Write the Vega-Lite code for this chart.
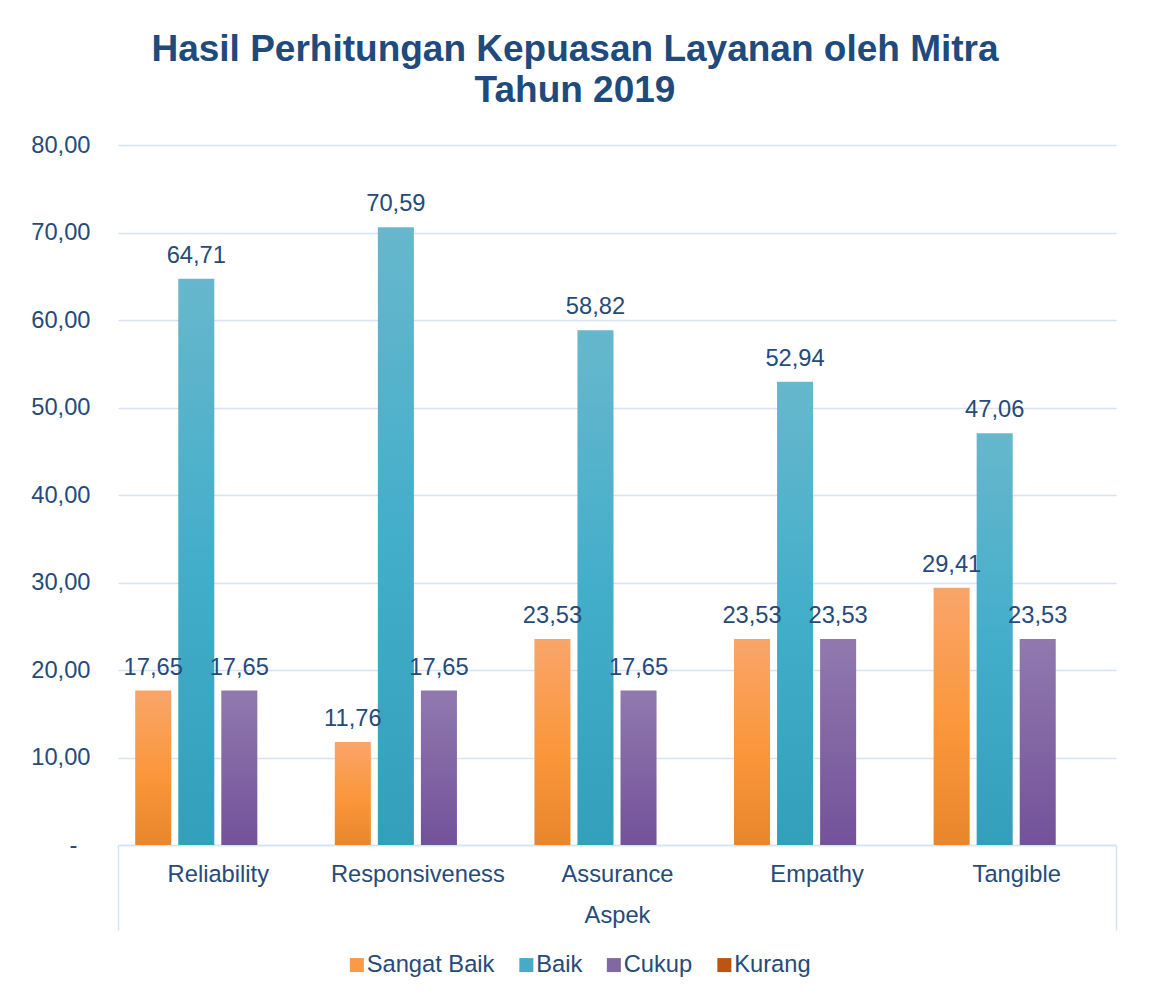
{
  "$schema": "https://vega.github.io/schema/vega-lite/v6.json",
  "width": 998,
  "height": 700,
  "autosize": {"type": "none"},
  "padding": {"left": 118, "top": 145, "right": 33, "bottom": 153},
  "background": "white",
  "config": {
    "locale": {"number": {"decimal": ",", "thousands": ".", "grouping": [3], "currency": ["", ""]}},
    "view": {"stroke": null},
    "font": "Liberation Sans"
  },
  "title": {
    "text": ["Hasil Perhitungan Kepuasan Layanan oleh Mitra", "Tahun 2019"],
    "fontSize": 37,
    "fontWeight": "bold",
    "color": "#1f4a7c",
    "lineHeight": 41,
    "anchor": "middle",
    "dx": -42,
    "offset": 23,
    "font": "Liberation Sans"
  },
  "data": {
    "values": [
      {"Aspek": "Reliability", "Kategori": "Sangat Baik", "Nilai": 17.65},
      {"Aspek": "Reliability", "Kategori": "Baik", "Nilai": 64.71},
      {"Aspek": "Reliability", "Kategori": "Cukup", "Nilai": 17.65},
      {"Aspek": "Reliability", "Kategori": "Kurang", "Nilai": 0},
      {"Aspek": "Responsiveness", "Kategori": "Sangat Baik", "Nilai": 11.76},
      {"Aspek": "Responsiveness", "Kategori": "Baik", "Nilai": 70.59},
      {"Aspek": "Responsiveness", "Kategori": "Cukup", "Nilai": 17.65},
      {"Aspek": "Responsiveness", "Kategori": "Kurang", "Nilai": 0},
      {"Aspek": "Assurance", "Kategori": "Sangat Baik", "Nilai": 23.53},
      {"Aspek": "Assurance", "Kategori": "Baik", "Nilai": 58.82},
      {"Aspek": "Assurance", "Kategori": "Cukup", "Nilai": 17.65},
      {"Aspek": "Assurance", "Kategori": "Kurang", "Nilai": 0},
      {"Aspek": "Empathy", "Kategori": "Sangat Baik", "Nilai": 23.53},
      {"Aspek": "Empathy", "Kategori": "Baik", "Nilai": 52.94},
      {"Aspek": "Empathy", "Kategori": "Cukup", "Nilai": 23.53},
      {"Aspek": "Empathy", "Kategori": "Kurang", "Nilai": 0},
      {"Aspek": "Tangible", "Kategori": "Sangat Baik", "Nilai": 29.41},
      {"Aspek": "Tangible", "Kategori": "Baik", "Nilai": 47.06},
      {"Aspek": "Tangible", "Kategori": "Cukup", "Nilai": 23.53},
      {"Aspek": "Tangible", "Kategori": "Kurang", "Nilai": 0}
    ]
  },
  "encoding": {
    "x": {
      "field": "Aspek",
      "type": "nominal",
      "sort": ["Reliability", "Responsiveness", "Assurance", "Empathy", "Tangible"],
      "scale": {"paddingInner": 0, "paddingOuter": 0},
      "axis": {
        "title": "Aspek",
        "titleFontSize": 23.7,
        "titleFontWeight": "normal",
        "titleColor": "#264a7a",
        "titlePadding": -27,
        "labelFontSize": 23.7,
        "labelColor": "#264a7a",
        "labelPadding": -68,
        "labelAngle": 0,
        "domainColor": "#d6e3f3",
        "domainWidth": 1.5,
        "ticks": true,
        "tickBand": "extent",
        "tickSize": 85,
        "tickWidth": 1.5,
        "tickColor": {
          "condition": {"test": "datum.value === 'Tangible' || isValid(datum.extra)", "value": "#d6e3f3"},
          "value": "rgba(0,0,0,0)"
        }
      }
    },
    "xOffset": {
      "field": "Kategori",
      "type": "nominal",
      "sort": ["Sangat Baik", "Baik", "Cukup", "Kurang"],
      "scale": {"paddingInner": 0.163, "paddingOuter": 0.4}
    },
    "y": {
      "field": "Nilai",
      "type": "quantitative",
      "scale": {"domain": [0, 80]},
      "axis": {
        "title": null,
        "values": [0, 10, 20, 30, 40, 50, 60, 70, 80],
        "format": ".2f",
        "labelExpr": "datum.value == 0 ? '-' : datum.label",
        "domain": false,
        "ticks": false,
        "tickSize": 0,
        "labelPadding": {"condition": {"test": "datum.value == 0", "value": 41}, "value": 28},
        "labelFontSize": 23.7,
        "labelColor": "#264a7a",
        "gridColor": "#d6e3f3",
        "gridWidth": 1.5
      }
    }
  },
  "layer": [
    {
      "mark": {"type": "bar"},
      "encoding": {
        "color": {
          "field": "Kategori",
          "type": "nominal",
          "sort": ["Sangat Baik", "Baik", "Cukup", "Kurang"],
          "scale": {
            "domain": ["Sangat Baik", "Baik", "Cukup", "Kurang"],
            "range": ["#f99a48", "#45abc7", "#8268a3", "#bd5412"]
          },
          "condition": [
            {"test": "datum.Kategori === 'Sangat Baik'", "value": {"gradient": "linear", "x1": 0, "y1": 0, "x2": 0, "y2": 1, "stops": [{"offset": 0, "color": "#f9a56a"}, {"offset": 0.55, "color": "#fb963a"}, {"offset": 1, "color": "#e8862c"}]}},
            {"test": "datum.Kategori === 'Baik'", "value": {"gradient": "linear", "x1": 0, "y1": 0, "x2": 0, "y2": 1, "stops": [{"offset": 0, "color": "#67b7cd"}, {"offset": 0.5, "color": "#43aeca"}, {"offset": 1, "color": "#349fbb"}]}},
            {"test": "datum.Kategori === 'Cukup'", "value": {"gradient": "linear", "x1": 0, "y1": 0, "x2": 0, "y2": 1, "stops": [{"offset": 0, "color": "#9179ae"}, {"offset": 1, "color": "#72529a"}]}}
          ],
          "legend": {
            "orient": "none",
            "legendX": 227,
            "legendY": 808,
            "direction": "horizontal",
            "title": null,
            "symbolType": "square",
            "symbolSize": 196,
            "symbolStrokeWidth": 0,
            "labelFontSize": 23.7,
            "labelColor": "#264a7a",
            "labelOffset": -2,
            "columnPadding": 19.5
          }
        }
      }
    },
    {
      "transform": [{"filter": "datum.Nilai > 0"}],
      "mark": {"type": "text", "baseline": "alphabetic", "dy": -16, "fontSize": 23.7, "color": "#264a7a"},
      "encoding": {
        "text": {"field": "Nilai", "type": "quantitative", "format": ".2f"}
      }
    }
  ]
}
